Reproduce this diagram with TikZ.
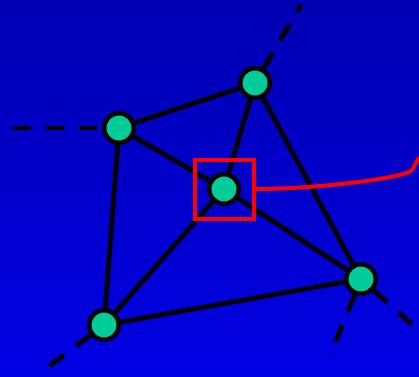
\documentclass[tikz,border=0pt]{standalone}
\usepackage{xcolor}
\usepackage{tikz}

\definecolor{bgtop}{RGB}{0,0,178}
\definecolor{bgbot}{RGB}{0,0,228}
\definecolor{vgreen}{RGB}{0,204,153}

\begin{document}
\begin{tikzpicture}[
  x=1pt, y=-1pt,
  vtx/.style={circle, draw=black, fill=vgreen, line width=4.5pt, minimum size=29.5pt, inner sep=0pt},
  edge/.style={line width=4.8pt, black},
  ghost/.style={line width=4.8pt, black, dash pattern=on 18pt off 15pt},
  sel/.style={draw=red, line width=4pt, minimum size=59pt, inner sep=0pt}
]
  % Background
  \shade[top color=bgtop, bottom color=bgbot] (0,0) rectangle (419,376);
  \useasboundingbox (0,0) rectangle (419,376);

  % Nodes
  \node[vtx] (lft) at (119,128) {};
  \node[vtx] (top) at (255,83)  {};
  \node[vtx] (mid) at (224,189) {};
  \node[vtx] (rgt) at (361,279) {};
  \node[vtx] (bot) at (104,325) {};

  % Far ends of the outer edges
  \coordinate (lftout) at (13,128);
  \coordinate (topout) at (301,5);
  \coordinate (rgtout1) at (330,356);
  \coordinate (rgtout2) at (425,336);
  \coordinate (botout) at (44,370);

  % Edges
  \draw[edge] (lft) -- (top);
  \draw[edge] (lft) -- (mid);
  \draw[edge] (lft) -- (bot);
  \draw[edge] (top) -- (mid);
  \draw[edge] (top) -- (rgt);
  \draw[edge] (mid) -- (rgt);
  \draw[edge] (mid) -- (bot);
  \draw[edge] (bot) -- (rgt);

  % Outer edges
  \draw[ghost] (lftout) -- (lft);
  \draw[ghost] (top) -- (topout);
  \draw[ghost] (rgt) -- (rgtout1);
  \draw[ghost] (rgt) -- (rgtout2);
  \draw[ghost] (bot) -- (botout);

  % Selection
  \node[sel] (box) at (mid) {};
  \coordinate (tail) at (421,157);
  \draw[red, line width=4pt] (box.east) .. controls (310,189) and (390,180) .. (409,172)
    .. controls (416,169) and (413,162) .. (tail);
\end{tikzpicture}
\end{document}
